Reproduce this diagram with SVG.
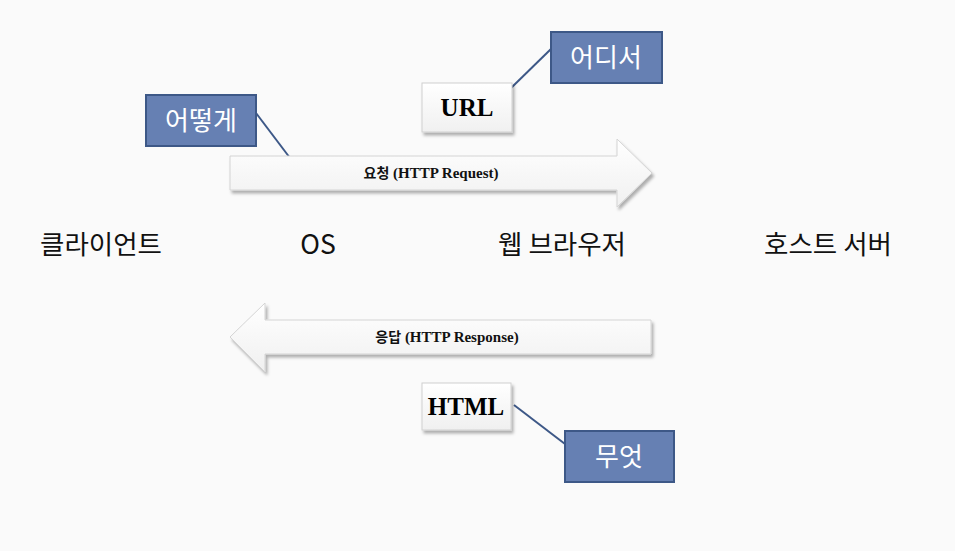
<svg xmlns="http://www.w3.org/2000/svg" width="960" height="558" viewBox="0 0 960 558">
<defs>
<filter id="sh" x="-10%" y="-20%" width="130%" height="150%">
<feDropShadow dx="2" dy="3" stdDeviation="1.6" flood-color="#000" flood-opacity="0.3"/>
</filter>
<linearGradient id="wg" x1="0" y1="0" x2="0" y2="1">
<stop offset="0" stop-color="#ffffff"/>
<stop offset="1" stop-color="#f0f0f0"/>
</linearGradient>
</defs>
<style>
.bg{fill:#fafafa}
.blue{fill:#6680b3;stroke:#3d5887;stroke-width:2}
.btxt{font-family:"Noto Sans CJK KR","Noto Sans",sans-serif;font-size:26px;fill:#ffffff;text-anchor:middle}
.wbox{fill:url(#wg);stroke:#d0d0d0;stroke-width:1;filter:url(#sh)}
.wtxt{font-family:"Liberation Serif",serif;font-weight:bold;font-size:25px;fill:#000;text-anchor:middle}
.arrow{fill:url(#wg);stroke:#d4d4d4;stroke-width:1;filter:url(#sh)}
.atxt{font-family:"Liberation Serif","Noto Sans CJK KR",serif;font-weight:bold;font-size:15px;fill:#111;text-anchor:middle}
.akr{font-family:"Noto Sans CJK KR",sans-serif;font-weight:bold;font-size:14px}
.lbl{font-family:"Noto Sans CJK KR","Noto Sans",sans-serif;font-size:26.5px;fill:#111;text-anchor:middle}
.conn{stroke:#3d5887;stroke-width:2;fill:none}
</style>
<rect x="0" y="0" width="960" height="558" fill="#ffffff"/>
<rect class="bg" x="0" y="0" width="955" height="551"/>

<g id="connectors">
<line class="conn" x1="256" y1="113" x2="290" y2="158"/>
<line class="conn" x1="510" y1="89" x2="552" y2="48"/>
<line class="conn" x1="514" y1="405" x2="565" y2="444"/>
</g>

<g id="request">
<path class="arrow" d="M230,156 L617,156 L617,139 L652,173 L617,207 L617,190 L230,190 Z"/>
<text class="atxt" x="431" y="178"><tspan class="akr">요청</tspan> (HTTP Request)</text>
</g>

<g id="response">
<path class="arrow" d="M651,320 L265,320 L265,303 L230,337 L265,372 L265,354 L651,354 Z"/>
<text class="atxt" x="447" y="342"><tspan class="akr">응답</tspan> (HTTP Response)</text>
</g>

<g id="how">
<rect class="blue" x="146" y="95" width="110" height="51"/>
<text class="btxt" x="201" y="130">어떻게</text>
</g>

<g id="url">
<rect class="wbox" x="422" y="83" width="90" height="49"/>
<text class="wtxt" x="467" y="116">URL</text>
</g>

<g id="where">
<rect class="blue" x="551" y="32" width="111" height="51"/>
<text class="btxt" x="606" y="67">어디서</text>
</g>

<g id="html">
<rect class="wbox" x="422" y="383" width="89" height="47"/>
<text class="wtxt" x="466" y="415">HTML</text>
</g>

<g id="what">
<rect class="blue" x="565" y="431" width="109" height="51"/>
<text class="btxt" x="619" y="466">무엇</text>
</g>

<g id="client"><text class="lbl" x="101" y="254">클라이언트</text></g>
<g id="os"><text class="lbl" x="318" y="254">OS</text></g>
<g id="browser"><text class="lbl" x="562" y="254">웹 브라우저</text></g>
<g id="server"><text class="lbl" x="828" y="254">호스트 서버</text></g>
</svg>
